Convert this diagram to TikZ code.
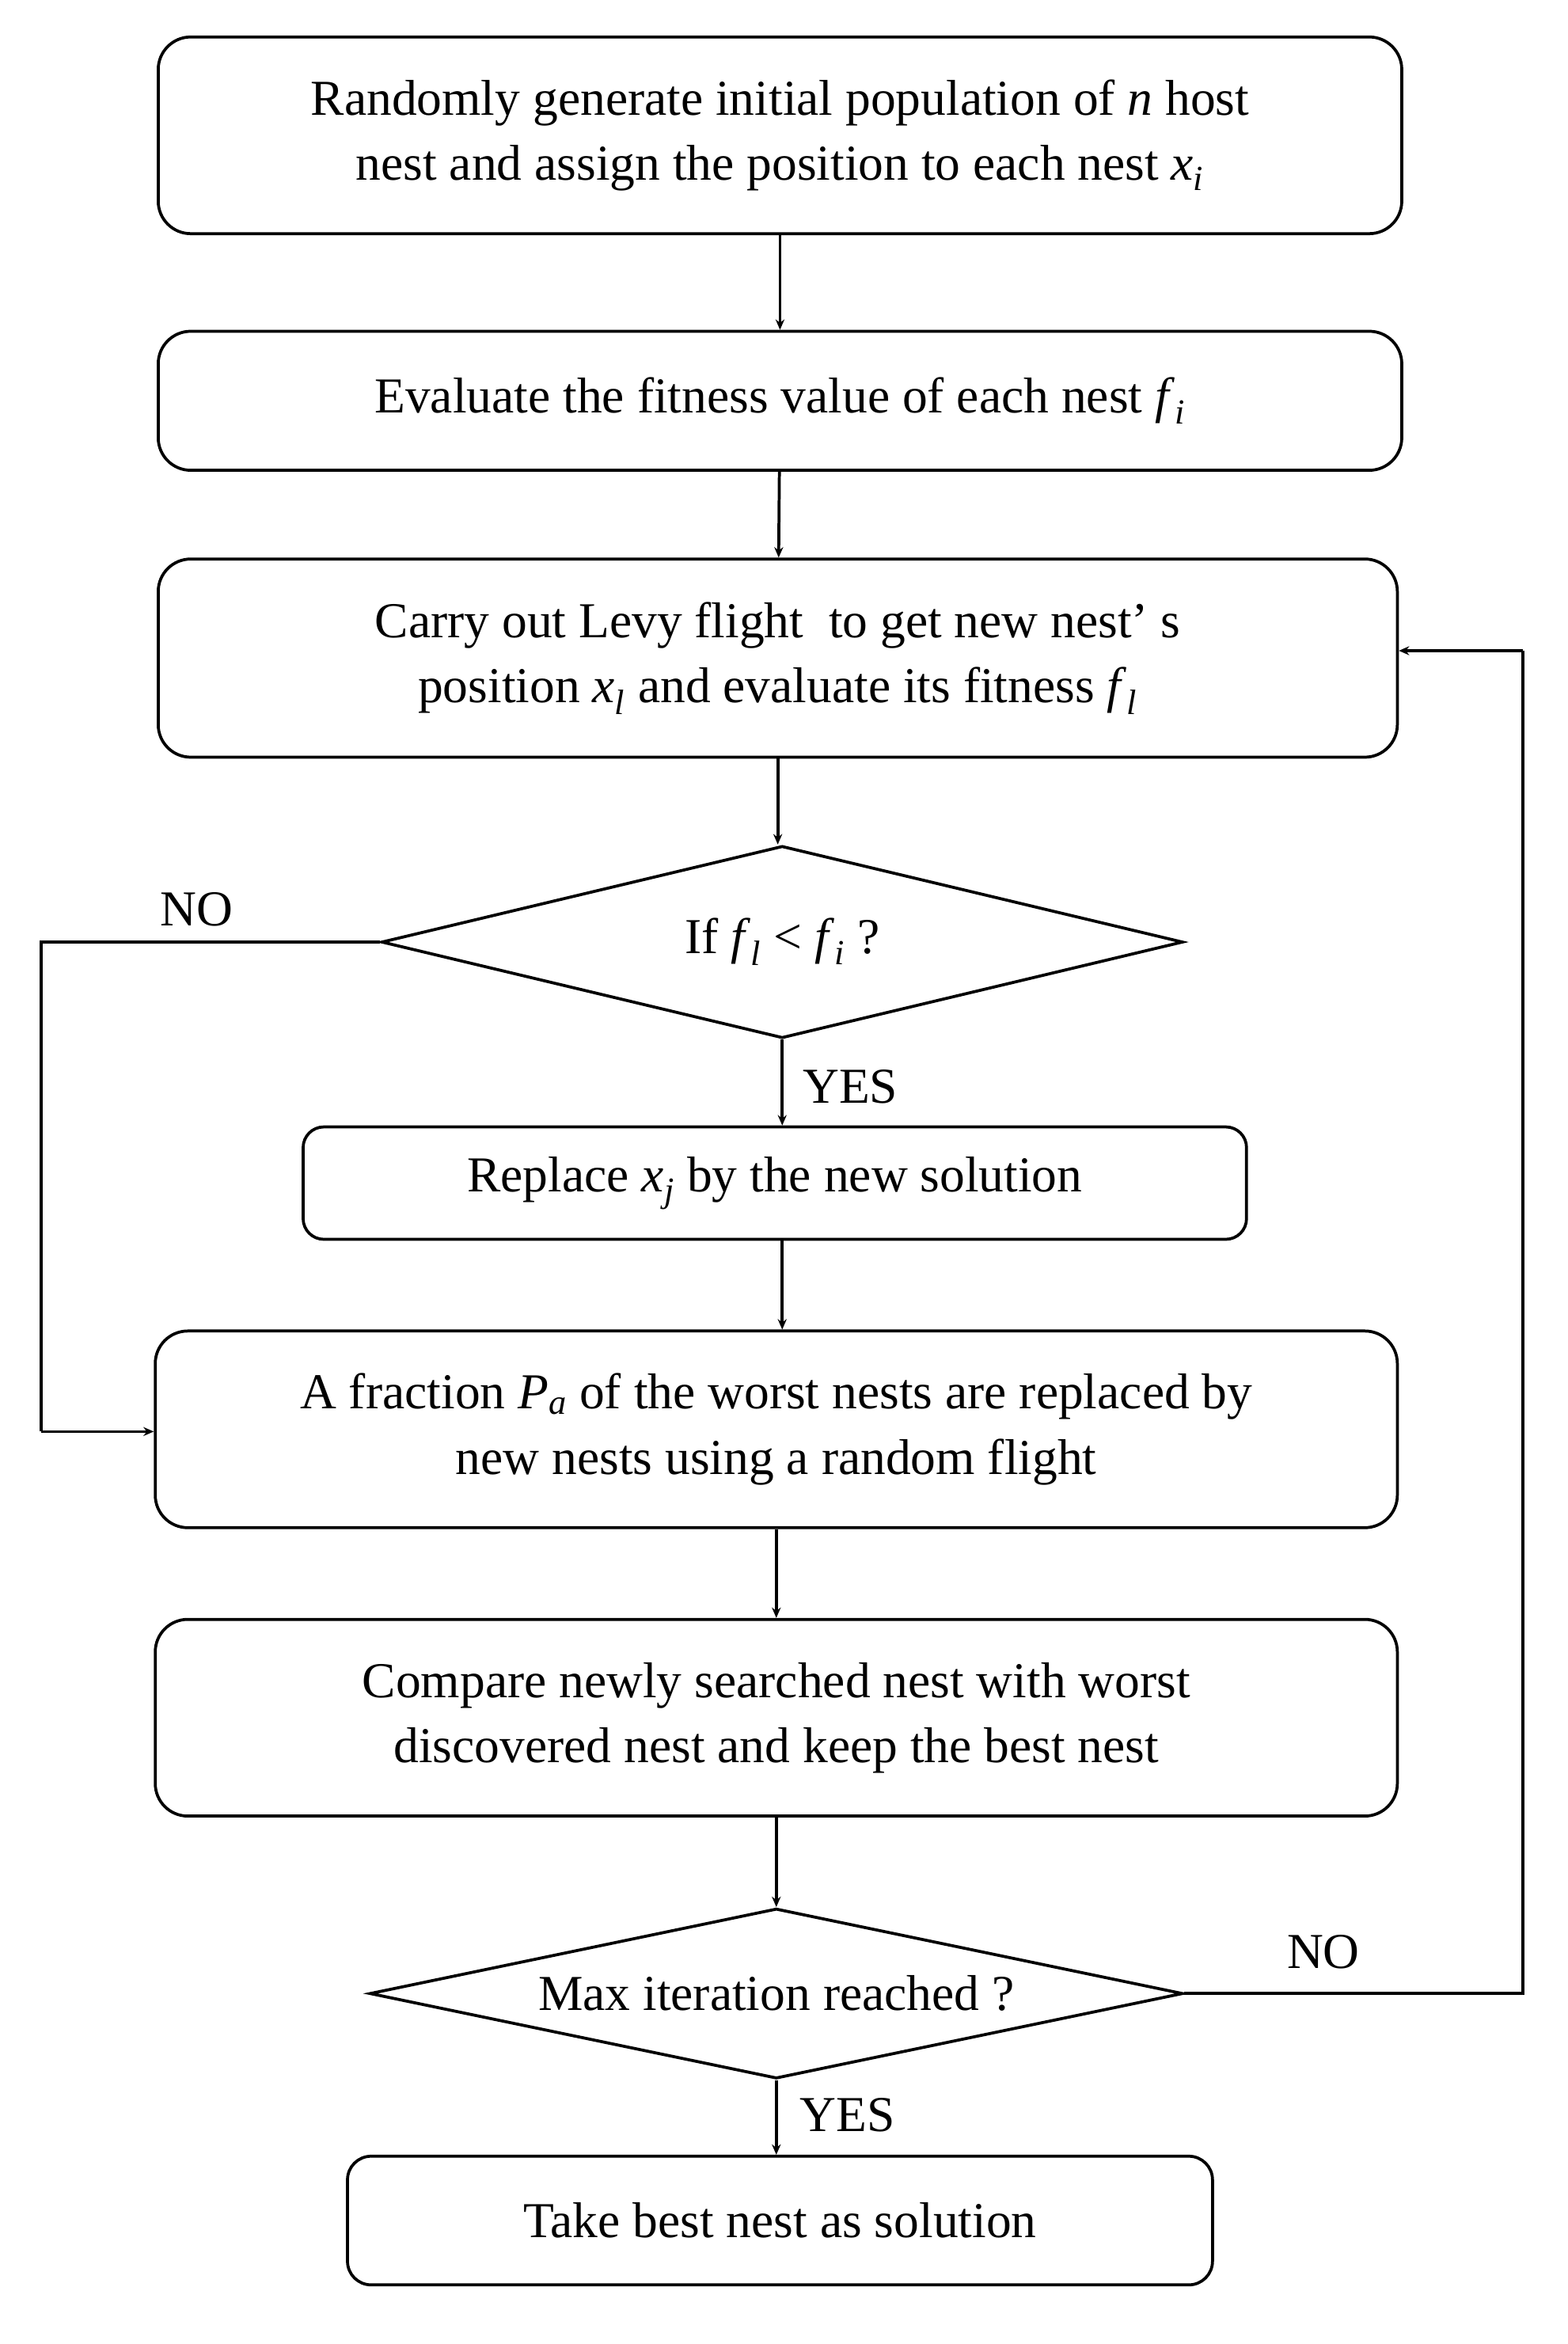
\documentclass[tikz,border=0pt]{standalone}
\usepackage{fontspec}
\setmainfont{Liberation Serif}
\usetikzlibrary{shapes.geometric,arrows.meta}
\newcommand{\vi}[2]{\textit{#1}\textsubscript{\textit{#2}}}
\begin{document}
\begin{tikzpicture}[x=1pt,y=-1pt,font=\fontsize{34}{44}\selectfont,
  box/.style={draw,line width=2pt,rounded corners=22pt,align=center,inner sep=0pt},
  dia/.style={draw,line width=2pt,diamond,inner sep=0pt},
  ln/.style={line width=2pt},
  arr/.style={line width=2pt,-{Stealth[length=7pt,width=6pt]}}]
\useasboundingbox (0,0) rectangle (1060,1585);
\node[box,minimum width=841pt,minimum height=133pt] (b1) at (527.5,91.5) {Randomly generate initial population of \textit{n} host\\nest and assign the position to each nest \vi{x}{i}};
\node[box,minimum width=841pt,minimum height=94pt] (b2) at (527.5,271) {Evaluate the fitness value of each nest \vi{f}{i}};
\node[box,minimum width=838pt,minimum height=134pt] (b3) at (526,445) {Carry out Levy flight\ \ to get new nest' s\\position \vi{x}{l} and evaluate its fitness \vi{f}{l}};
\node[dia,minimum width=542pt,minimum height=130pt,aspect=4.17] (d1) at (529,637) {};
\node at (529,637) {If \vi{f}{l} < \vi{f}{i} ?};
\node[box,minimum width=638pt,minimum height=76pt,rounded corners=14pt] (b4) at (524,800) {Replace \vi{x}{j} by the new solution};
\node[box,minimum width=840pt,minimum height=133pt] (b5) at (525,966.5) {A fraction \vi{P}{a} of the worst nests are replaced by\\new nests using a random flight};
\node[box,minimum width=840pt,minimum height=133pt] (b6) at (525,1161.5) {Compare newly searched nest with worst\\discovered nest and keep the best nest};
\node[dia,minimum width=550pt,minimum height=115pt,aspect=4.78] (d2) at (525,1348) {};
\node at (525,1348) {Max iteration reached ?};
\node[box,minimum width=585pt,minimum height=87pt,rounded corners=16pt] (b7) at (527.5,1501.5) {Take best nest as solution};
\draw[arr] (b1) -- (b2);
\draw[arr] (b2) -- (b3);
\draw[arr] (b3) -- (b3 |- d1.north);
\draw[arr] (d1) -- (d1 |- b4.north);
\draw[arr] (b4.south -| d1) -- (d1 |- b5.north);
\draw[arr] (b5) -- (b6);
\draw[arr] (b6) -- (b6 |- d2.north);
\draw[arr] (d2) -- (d2 |- b7.north);
\coordinate (l1) at (28,637);
\coordinate (l2) at (28,968);
\draw[ln] (d1.west) -- (l1) -- (l2);
\draw[arr] (l2) -- (b5.west |- l2);
\coordinate (r1) at (1030,1348);
\coordinate (r2) at (1030,440);
\draw[ln] (d2.east) -- (r1) -- (r2);
\draw[arr] (r2) -- (b3.east |- r2);
\node at (133,615) {NO};
\node at (575,735) {YES};
\node at (895,1320) {NO};
\node at (573,1430) {YES};
\end{tikzpicture}
\end{document}
